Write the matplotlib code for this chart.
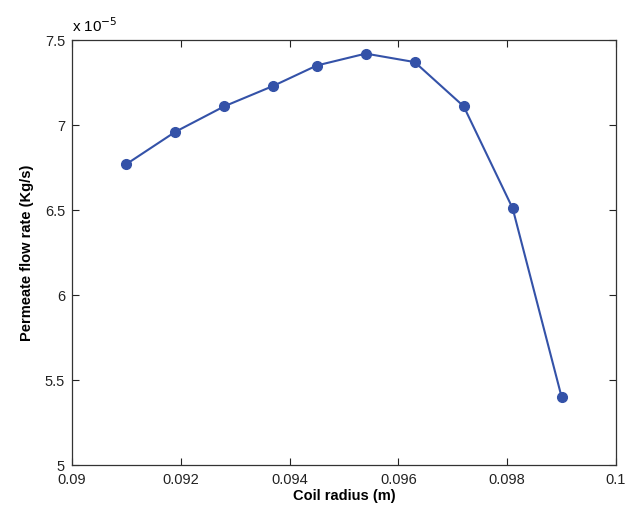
import numpy as np
import matplotlib
matplotlib.use("Agg")
import matplotlib.pyplot as plt
from matplotlib.ticker import FuncFormatter

# Data
coil_radius = [0.0910, 0.0919, 0.0928, 0.0937, 0.0945, 0.0954, 0.0963, 0.0972, 0.0981, 0.0990]
flow_rate_e5 = [6.77, 6.96, 7.11, 7.23, 7.35, 7.42, 7.37, 7.11, 6.51, 5.40]
flow_rate = [v * 1e-5 for v in flow_rate_e5]

x_ticks = [0.09, 0.092, 0.094, 0.096, 0.098, 0.1]
y_ticks = [5e-5, 5.5e-5, 6e-5, 6.5e-5, 7e-5, 7.5e-5]

plt.rcParams["font.family"] = ["Liberation Sans", "DejaVu Sans"]

fig = plt.figure(figsize=(6.27, 5.11), dpi=100)
ax = fig.add_axes([72 / 627, 46 / 511, 544 / 627, 425 / 511])

ax.plot(coil_radius, flow_rate, color="#3452a8", linewidth=1.5,
        marker="o", markersize=7)

ax.set_xlim(0.09, 0.1)
ax.set_ylim(5e-5, 7.5e-5)
ax.set_xticks(x_ticks)
ax.set_yticks(y_ticks)
ax.xaxis.set_major_formatter(FuncFormatter(lambda v, p: f"{v:g}"))
ax.yaxis.set_major_formatter(FuncFormatter(lambda v, p: f"{v / 1e-5:g}"))
ax.tick_params(direction="in", top=True, right=True, length=5,
               labelsize=10.5, colors="#222222")
ax.tick_params(axis="x", pad=6)
ax.tick_params(axis="y", pad=5)
for s in ax.spines.values():
    s.set_color("#333333")
    s.set_linewidth(0.9)

ax.text(0.0, 1.012, r"x 10$^{-5}$", transform=ax.transAxes, fontsize=11,
        ha="left", va="bottom")

ax.set_xlabel("Coil radius (m)", fontsize=10.5, fontweight="bold", labelpad=1)
ax.set_ylabel("Permeate flow rate (Kg/s)", fontsize=10.5, fontweight="bold", labelpad=8)

fig.savefig("out.png", dpi=100)
